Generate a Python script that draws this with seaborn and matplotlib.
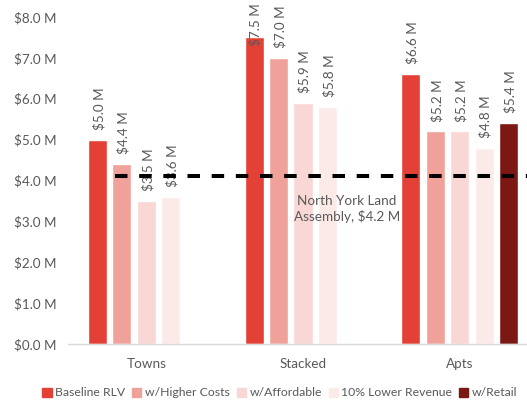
import matplotlib
matplotlib.use("Agg")
import matplotlib.pyplot as plt
import seaborn as sns
import pandas as pd
import numpy as np

categories = ["Towns", "Stacked", "Apts"]
series = ["Baseline RLV", "w/Higher Costs", "w/Affordable", "10% Lower Revenue", "w/Retail"]
baseline = [5.0, 7.5, 6.6]
higher_costs = [4.4, 7.0, 5.2]
affordable = [3.5, 5.9, 5.2]
lower_revenue = [3.6, 5.8, 4.8]
retail = [np.nan, np.nan, 5.4]
land_assembly_value = 4.1
land_assembly_label = "North York Land\nAssembly, $4.2 M"
yticks = [0, 1, 2, 3, 4, 5, 6, 7, 8]

colors = ["#E34135", "#F0A19A", "#F8D7D4", "#FCEAE9", "#7B1813"]
gray = "#595959"
FS = 9.7

sns.set_style("white")
plt.rcParams["font.family"] = ["Lato", "DejaVu Sans"]

rows = []
for s, vals in zip(series, [baseline, higher_costs, affordable, lower_revenue, retail]):
    for c, v in zip(categories, vals):
        rows.append({"cat": c, "series": s, "value": v})
df = pd.DataFrame(rows)

fig = plt.figure(figsize=(5.27, 4.05), dpi=100)
ax = fig.add_axes([68 / 527, 61 / 405, 470 / 527, 327 / 405])

sns.barplot(data=df, x="cat", y="value", hue="series", order=categories,
            hue_order=series, palette=colors, width=0.78, gap=0.22,
            saturation=1, ax=ax, legend=False, errorbar=None)

for cont in ax.containers:
    for b in cont:
        h = b.get_height()
        if h is None or np.isnan(h):
            continue
        ypos = min(h + 0.24, 7.3)
        ax.text(b.get_x() + b.get_width() / 2 + 0.01, ypos, f"${h:.1f} M",
                rotation=90, ha="center", va="bottom", fontsize=FS, color=gray)

ax.plot([-0.2, 2.8], [land_assembly_value, land_assembly_value], color="black",
        lw=2.9, dashes=(3.1, 2.9), zorder=5)
ax.text(1.28, 3.3, land_assembly_label, ha="center", va="center",
        fontsize=FS, color=gray, linespacing=1.25)

ax.set_xlim(-0.5, 2.5)
ax.set_ylim(0, 8)
ax.set_yticks(yticks)
ax.set_yticklabels([f"${v:.1f} M" for v in yticks])
ax.set_xlabel("")
ax.set_ylabel("")
ax.tick_params(axis="both", length=0, labelsize=FS, labelcolor=gray)
ax.tick_params(axis="x", pad=10)
ax.tick_params(axis="y", pad=8)
for s in ["top", "right", "left"]:
    ax.spines[s].set_visible(False)
ax.spines["bottom"].set_color("#D9D9D9")
ax.spines["bottom"].set_linewidth(1)

handles = [plt.Rectangle((0, 0), 1, 1, color=c) for c in colors]
fig.legend(handles, series, loc="center", bbox_to_anchor=(280 / 527, 12 / 405),
           ncol=5, frameon=False, handlelength=0.75, handleheight=0.75,
           handletextpad=0.3, columnspacing=0.55, fontsize=8.8,
           labelcolor=gray)

fig.savefig("out.png", dpi=100)
